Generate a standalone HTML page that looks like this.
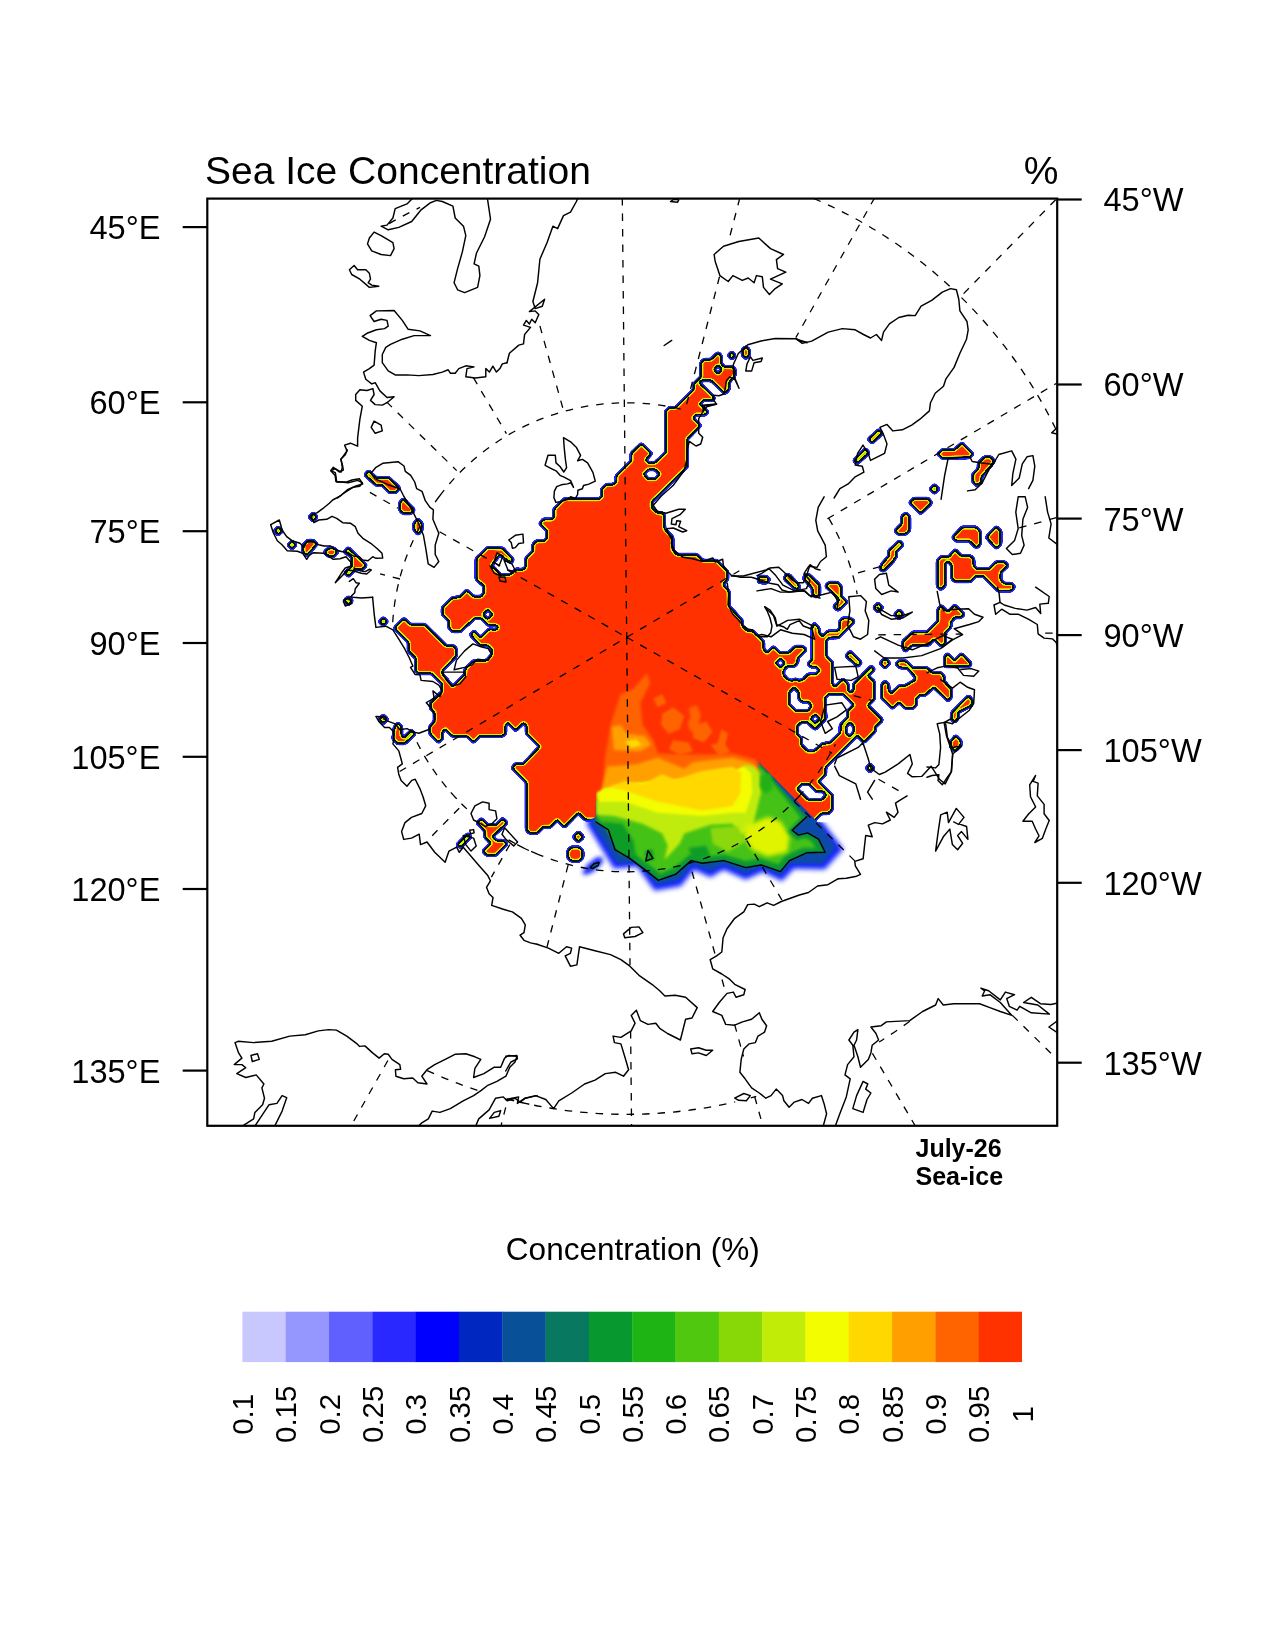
<!DOCTYPE html><html><head><meta charset="utf-8"><title>Sea Ice Concentration</title>
<style>html,body{margin:0;padding:0;background:#fff}body{width:1275px;height:1650px;overflow:hidden}svg{display:block;will-change:transform}text{font-family:"Liberation Sans",sans-serif;fill:#000}</style></head><body>
<svg width="1275" height="1650" viewBox="0 0 1275 1650">
<rect width="1275" height="1650" fill="#fff"/>
<defs><clipPath id="fr"><rect x="207.3" y="198.6" width="849.9" height="927.2"/></clipPath></defs>
<g clip-path="url(#fr)">
<defs>
<filter id="edge" x="200" y="190" width="870" height="950" filterUnits="userSpaceOnUse" color-interpolation-filters="sRGB">
<feGaussianBlur in="SourceAlpha" stdDeviation="1.0" result="b"/>
<feComponentTransfer in="b" result="am"><feFuncA type="table" tableValues="0 0 1 1 1 1 1 1 1 1 1 1 1 1 1 1 1 1 1 1 1 1 1 1 1 1 1 1 1 1 1 1 1 1 1 1 1 1 1 1 1 1 1 1 1 1 1 1 1 1 1 1 1 1 1 1 1 1 1 1 1 1 1 1 1"/></feComponentTransfer>
<feColorMatrix in="b" type="matrix" values="0 0 0 1 0  0 0 0 1 0  0 0 0 1 0  0 0 0 0 1" result="g"/>
<feComponentTransfer in="g" result="col"><feFuncR type="table" tableValues="0.251 0.251 0.141 0.141 0.141 0.141 0.141 0.141 0.141 0.141 0.141 0.141 0.141 0.141 0.141 0.000 0.000 0.000 0.000 0.000 0.000 0.000 0.000 0.000 0.000 0.000 0.000 0.000 0.000 0.000 0.000 0.000 0.000 0.000 0.000 0.000 0.000 0.000 0.000 0.000 0.000 0.000 0.000 0.000 0.000 0.000 0.000 0.000 0.000 0.000 0.816 0.816 0.816 0.816 0.816 0.816 0.816 0.816 0.816 0.816 0.816 1.000 1.000 1.000 1.000"/><feFuncG type="table" tableValues="0.251 0.251 0.141 0.141 0.141 0.141 0.141 0.141 0.141 0.141 0.141 0.141 0.141 0.141 0.141 0.094 0.094 0.094 0.094 0.094 0.094 0.094 0.094 0.094 0.094 0.094 0.094 0.094 0.094 0.094 0.094 0.094 0.094 0.094 0.094 0.094 0.094 0.094 0.094 0.094 0.094 0.094 0.094 0.094 0.094 0.094 0.094 0.094 0.094 0.094 0.957 0.957 0.957 0.957 0.957 0.957 0.957 0.957 0.957 0.957 0.957 0.690 0.690 0.196 0.196"/><feFuncB type="table" tableValues="1.000 1.000 0.973 0.973 0.973 0.973 0.973 0.973 0.973 0.973 0.973 0.973 0.973 0.973 0.973 0.031 0.031 0.031 0.031 0.031 0.031 0.031 0.031 0.031 0.031 0.031 0.031 0.031 0.031 0.031 0.031 0.031 0.031 0.031 0.031 0.031 0.031 0.031 0.031 0.031 0.031 0.031 0.031 0.031 0.031 0.031 0.031 0.031 0.031 0.031 0.000 0.000 0.000 0.000 0.000 0.000 0.000 0.000 0.000 0.000 0.000 0.000 0.000 0.000 0.000"/></feComponentTransfer>
<feComposite in="col" in2="am" operator="in"/>
</filter>
<mask id="hm" maskUnits="userSpaceOnUse" x="0" y="0" width="1275" height="1650"><rect width="1275" height="1650" fill="#fff"/>
<path fill="#000" d="M824.6 697.9 L828.4 694.1 L843.4 694.1 L854.2 704.9 L848.1 711.1 L848.1 717.6 L840.6 725.2 L840.6 732.7 L830.2 743.1 L822.7 744 L814.2 751.5 L807.6 751.5 L801.1 744.9 L801.1 738.4 L796.8 734.1 L796.8 726.1 L801.1 721.9 L807.6 721.9 L815.2 728.9 L825.5 718.6Z"/>
<path fill="#000" d="M815.2 713.9 L820.1 718.8 L815.2 723.7 L810.3 718.8Z"/>
<path fill="#000" d="M794 687.1 L799.2 692.2 L799.2 698.8 L802 701.6 L808.6 701.6 L811.9 705.4 L808.6 711.1 L795.4 711.1 L788.8 704.5 L788.8 692.2Z"/>
<path fill="#000" d="M850 721.9 L853.8 726.1 L853.8 732.7 L850 736.5 L846.2 734.6 L845.3 727.1Z"/>
<path fill="#000" d="M796.7 788.7 L801.3 784 L809.3 784 L816.7 791.3 L823.3 791.3 L826.7 795.3 L822 800 L808 800Z"/>
<path fill="#000" d="M780.3 658 L785.3 662.9 L780.3 668 L775.3 662.9Z"/>
<path fill="#000" d="M718 365.1 L722.3 369.5 L718 373.9 L713.6 369.5Z"/>
<path fill="#000" d="M643.3 474 L648 469.3 L655.3 469.3 L660 474 L655.3 479.3 L648 479.3Z"/>
<path fill="#000" d="M487.7 609.3 L492.8 614.4 L487.7 619.5 L482.7 614.4Z"/>
</mask></defs>
<g filter="url(#edge)"><g mask="url(#hm)" fill="#ff3200">
<path d="M517.6 569.8 L523.3 569.8 L526.1 567.1 L526.1 558.5 L533.3 551.2 L533.3 544.4 L536.5 541.2 L544.1 541.2 L547.1 538.2 L547.1 530.6 L540 523.5 L543.5 519.6 L551.8 519.6 L554.4 517.1 L554.4 509.1 L564.1 499.2 L599.4 499.2 L602.1 496.5 L602.1 489.1 L606.5 484.7 L613.5 484.7 L616.5 481.8 L616.5 475.9 L631.5 460.8 L631.5 453.5 L641.2 443.9 L651.3 453.6 L645.3 460 L648.7 463.3 L654.7 463.3 L666 452.7 L666 411.3 L669.3 408 L675.3 408 L693.3 390 L694.1 388.9 L694.1 383.9 L701.3 376.7 L701.3 362.6 L704.2 359.8 L711.1 359.8 L718 352.9 L720.8 355.7 L720.8 363.5 L724.5 367.3 L732.7 367.3 L734.9 369.5 L734.9 375.1 L728.6 382.7 L728.6 389.6 L724.9 393.3 L711.4 380.2 L701.6 380.2 L699.1 383 L713.2 396.8 L713.9 398.7 L712.6 399.9 L703.5 399.9 L699.4 404.3 L707.6 412.1 L707.6 412.1 L705.3 414.4 L696 414.4 L692.7 418 L700.3 425.6 L686.9 438.9 L686.9 466.7 L651.7 501.6 L651.7 507.7 L657.1 513.1 L663.7 513.7 L664.4 529.3 L672.4 537.3 L672.4 550 L676.7 554.7 L696.7 554.7 L702.7 560.7 L716.7 560.7 L727.3 572 L727.3 579.3 L722.7 584.7 L728.7 591.3 L728.7 606 L742 620.7 L742 626 L747.3 631.3 L752.7 631.3 L763.3 642 L763.3 649.3 L767.1 653.3 L773.3 647.1 L780 653.3 L788.7 653.3 L795.3 646.7 L802.7 646.7 L806 650 L805.4 649.9 L797.4 657.9 L797.4 662.6 L794.1 665.9 L787.1 665.9 L783.3 670.1 L783.3 675.3 L788 680 L792.2 681.1 L795.5 679.2 L798.8 681.1 L803.1 680 L808.2 674.5 L816.2 674.5 L820 670.6 L816.2 666.6 L811.1 666.6 L808.2 664 L812.5 659.8 L812.5 627.3 L814.1 623.5 L818.6 628.2 L818.6 632.5 L822.4 636.7 L828 631.5 L837.4 631.5 L840.2 628.7 L840.2 621.2 L842.6 618.4 L850.1 618.4 L853.9 621.6 L838.4 637.2 L828.5 637.6 L826.1 640.5 L826.1 656.5 L832.2 662.6 L832.2 684.7 L835.1 687.1 L843.1 679.5 L847.8 684.2 L847.8 690.4 L850.6 693.2 L853.9 689.9 L853.9 684.2 L871.3 666.4 L874.1 669.2 L867.5 675.8 L874.1 681.9 L874.1 698.8 L867.5 705.4 L882.1 720 L883.3 718.7 L874.7 727.3 L874.7 731.3 L864 742 L857.3 735.3 L825.3 767.3 L825.3 774 L818 781.3 L832 795.3 L832 809.3 L828 813.3 L821.3 813.3 L815.3 819.3 L805 832 L780 840 L700 850 L640 855 L612 840 L598 824 L594.1 819.6 L585.5 819.6 L578.4 812.5 L564.3 826.7 L557.3 819.6 L550.2 826.7 L543.1 826.7 L536.9 832.9 L529.8 832.9 L526.7 829.8 L526.7 782 L512.5 767.8 L515.7 763.9 L523.5 763.9 L540 746.7 L526.7 733.3 L526.7 725.5 L523.5 722.4 L515.7 730.2 L507.8 722.4 L504.7 725.5 L505.3 725.3 L505.3 733.3 L502 736 L479.3 736 L473.3 742 L467.3 736 L452.7 736 L445.3 728.7 L442 732 L442 738.7 L438.7 742 L430 733.3 L430 726.7 L434.7 721.3 L434.7 712 L430.7 708 L430.7 703.3 L442 692 L442 683.3 L432 673.3 L418.7 673.3 L416 670.7 L416 658 L408.7 650.7 L408.7 642 L394.7 628 L404 618.7 L410 624.7 L424.7 624.7 L446 646 L453.3 646 L456 648.7 L456 656 L442 670.7 L442 674 L452.7 686.7 L465.3 674 L465.3 669.3 L473.3 661.3 L486.7 660.7 L492 654.7 L492 649.3 L488 645.3 L480.7 645.3 L470.7 634.7 L474 631.3 L480.7 638 L489.3 629.3 L496 630 L498.7 627.3 L495.3 624.7 L488 624.7 L481.3 618 L474.7 618 L460 631.3 L452.7 631.3 L449.3 628 L449.3 621.3 L442.7 614 L442.7 608 L452.7 598 L460 597.3 L466.7 590.4 L473.3 596.8 L481.3 596.8 L484.3 593.3 L484.3 586.1 L476.6 579.2 L476.6 558.5 L487.6 547.9 L502.6 548.4 L512.9 559.5 L511 562.6 L499.5 554.5 L491.3 565.4 L500.7 575.1 L510.1 575.1 L517.2 568.7Z"/>
<path d="M903.1 641.8 L912.8 632.6 L927.1 632.6 L938.3 620.9 L938.3 609.2 L941.4 606.1 L948 612.2 L954.6 605.6 L963.8 614.3 L960.7 617.3 L954.6 617.3 L950.5 621.9 L950.5 627 L944.9 632.6 L944.9 642.8 L941.4 645.9 L934.2 638.7 L928.1 644.9 L911.8 644.9 L905.7 651 L903.1 647.9Z"/>
<path d="M944.9 666.3 L944.9 657.1 L947.5 654 L954.6 661.2 L961.3 654 L970.9 663.7 L968.9 666.3Z"/>
<path d="M896.5 663.7 L899.1 661.2 L905.7 661.2 L912.8 668.3 L927.1 668.3 L932.2 672.9 L940.4 672.9 L943.9 676.5 L943.9 681.6 L951.1 689.7 L951.1 696.9 L948 700.4 L933.7 686.7 L925.1 694.8 L920 694.8 L915.9 698.4 L915.9 705 L912.8 708.1 L905.7 708.1 L899.1 702 L892.4 708.1 L882.2 697.9 L882.2 684.6 L885.3 681.6 L888.4 685.1 L888.4 690.7 L891.4 693.8 L899.1 686.2 L904.7 686.2 L914.9 680.5 L916.1 677.5 L907.7 668.1 L899.6 667.3Z"/>
<path d="M952.1 712.7 L968.4 696.3 L972 699.9 L971.4 705.5 L959.7 711.1 L957.7 713.2 L957.7 718.3 L954.6 721.8 L951.6 718.8Z"/>
<path d="M878.2 603.6 L882.2 607.6 L878.2 611.7 L874.1 607.6Z"/>
<path d="M899.1 610.2 L903.1 614.3 L899.1 618.4 L895 614.3Z"/>
<path d="M885.1 659.3 L889.2 663.4 L885.1 667.5 L881 663.4Z"/>
<path d="M850.1 651.8 L860.9 662.6 L858.1 665.9 L846.4 656Z"/>
<path d="M884.9 658.8 L889.2 663.1 L884.9 667.3 L880.7 663.1Z"/>
<path d="M868.7 439.3 L878.7 430 L882 433.3 L872 442.7Z"/>
<path d="M854 460.7 L865.3 449.3 L868.7 452.7 L857.3 463.3Z"/>
<path d="M938 454 L942.7 450 L954.7 450 L962 443.3 L972.7 454 L969.3 457.3 L942.7 458Z"/>
<path d="M978.7 463.3 L984.7 457.3 L990.7 457.3 L994 461.3 L989.3 467.3 L981.3 476.7 L981.3 482 L976.7 485.3 L973.3 482 L973.3 474 L978.7 468.7Z"/>
<path d="M934.4 484.9 L938.4 488.9 L934.4 492.9 L930.4 488.9Z"/>
<path d="M910 502.7 L914 498.7 L928 498.7 L931.3 502.7 L920.7 513.3Z"/>
<path d="M906 513.3 L909.3 516.7 L909.3 530 L905.3 534 L898.7 534 L895.3 530.7 L902 524 L902 516.7Z"/>
<path d="M899.3 541.3 L902.7 544.7 L896 551.3 L896 556.7 L885.3 568.7 L881.3 565.3 L889.3 556 L889.3 550.7Z"/>
<path d="M953 537.3 L962.2 527.6 L976 527.6 L980 531.7 L980 544 L976.5 547.5 L969.3 540.4 L955.6 540.4Z"/>
<path d="M986.7 537.3 L996.3 527.1 L1000.4 531.2 L1000.4 544 L996.3 548Z"/>
<path d="M937.7 560.8 L940.8 557.2 L948.9 557.2 L955.1 550.1 L961.2 556.2 L970.4 556.2 L973.4 559.3 L973.4 565.9 L976.5 568.9 L989.7 568.9 L996.3 562.3 L1004.5 562.3 L1007.6 565.4 L1000.4 572.5 L1000.4 580.2 L1004 583.7 L1011.1 583.7 L1014.2 586.8 L1011.1 590.4 L997.9 590.4 L983.6 576.1 L975.4 576.1 L970.4 581.2 L955.1 581.2 L952 578.1 L952 564.9 L947.9 560.8 L944.9 563.8 L944.9 585.3 L940.8 589.3 L937.7 586.3Z"/>
<path d="M365.3 474.7 L368.7 471.3 L376 478 L388.7 478 L399.3 488 L396 492 L389.3 492 L382 484.7 L376 484.7Z"/>
<path d="M400 502.7 L403.3 499.3 L414 510 L410.7 513.3 L403.3 513.3 L400 510Z"/>
<path d="M418 519.3 L421.6 523.3 L421.6 530 L418 534 L414.4 530 L414.4 523.3Z"/>
<path d="M313.1 513.3 L316.8 517.1 L313.1 520.8 L309.3 517.1Z"/>
<path d="M278.3 527.3 L281.9 530.9 L278.3 534.5 L274.7 530.9Z"/>
<path d="M292 541.3 L295.6 544.9 L292 548.5 L288.4 544.9Z"/>
<path d="M303.3 545.3 L308 540.7 L313.3 540.7 L316.7 544 L306.7 555.3 L303.3 552Z"/>
<path d="M324.7 552 L328.7 548.4 L334 548.4 L337.3 552 L334 556 L328.7 556Z"/>
<path d="M344.7 552 L348 548 L366 565.3 L362 569.3 L356 568.7 L354.7 569.3 L348.7 576 L345.3 573.3 L352 566.7 L352 556.7Z"/>
<path d="M348.3 596.9 L352 600.7 L348.3 604.4 L344.5 600.7Z"/>
<path d="M383.3 617.9 L387.1 621.6 L383.3 625.3 L379.6 621.6Z"/>
<path d="M383.3 715.6 L387.1 719.3 L383.3 723.1 L379.6 719.3Z"/>
<path d="M383.3 715.9 L387.1 719.6 L383.3 723.3 L379.6 719.6Z"/>
<path d="M394.7 727.3 L398 723.3 L401.3 726.7 L401.3 735.3 L404 738 L411.3 730.7 L414.7 734 L404.7 743.3 L398 743.3 L393.3 738.7Z"/>
<path d="M457.3 844.7 L468 834 L470.7 836.7 L460.7 847.3Z"/>
<path d="M477.3 822.7 L481.3 819.1 L488 825.3 L496 825.3 L502.7 818.7 L506.7 822.7 L492 836.7 L496 840.7 L503.3 840.7 L506.7 844 L496 854.7 L486.7 854.7 L483.3 851.3 L491.3 843.3 L485.3 837.3 L485.3 831.3Z"/>
<path d="M578.4 832.2 L583.1 836.9 L578.4 841.6 L573.7 836.9Z"/>
<path d="M571.4 847.5 L579.2 847.5 L582.4 850.7 L582.4 857.6 L579.2 860.7 L571.4 860.7 L568.2 857.6 L568.2 850.7Z"/>
<path d="M731.8 352.2 L734.9 355.4 L731.8 358.5 L728.6 355.4Z"/>
<path d="M745.9 346.9 L749 350 L749 355.1 L745.9 358.2 L742.7 355.1 L742.7 350Z"/>
<path d="M758.7 576.7 L766 576.7 L769.3 579.3 L766 582.7 L758.7 582Z"/>
<path d="M786 575.3 L789.3 575.3 L798.7 585.3 L798.7 588.7 L795.3 588.7 L784.7 578.7Z"/>
<path d="M805.3 574.7 L808.7 574.7 L819.3 585.3 L819.3 594.7 L816 596.7 L812.7 594 L812.7 588 L804 578.7Z"/>
<path d="M826 586 L829.3 582.7 L837.3 582.7 L840.7 586 L840.7 596 L846.7 602 L838 610 L834 606.7 L838.7 602 L838.7 598 L826.7 586.7Z"/>
<path d="M880 568 L891 557 L894 560 L883 571Z"/>
<path d="M951 746.4 L951 741.6 L955.8 736 L960.5 740.7 L960.5 745.4 L954.8 751Z"/>
<path d="M870.1 764.6 L873.5 768 L870.1 771.4 L866.7 768Z"/>
</g></g>
<defs><clipPath id="gc"><path d="M595.9 670 L760.6 670 L760.6 764 L817.7 822.2 L850 822.2 L850 899.9 L583.2 899.9 L583.2 821.5 L595.9 817.6Z"/></clipPath>
<filter id="gb0_8" x="-20%" y="-20%" width="140%" height="140%"><feGaussianBlur stdDeviation="0.8"/></filter>
<filter id="gb1_0" x="-20%" y="-20%" width="140%" height="140%"><feGaussianBlur stdDeviation="1.0"/></filter>
<filter id="gb1_1" x="-20%" y="-20%" width="140%" height="140%"><feGaussianBlur stdDeviation="1.1"/></filter>
<filter id="gb1_2" x="-20%" y="-20%" width="140%" height="140%"><feGaussianBlur stdDeviation="1.2"/></filter>
<filter id="gb1_4" x="-20%" y="-20%" width="140%" height="140%"><feGaussianBlur stdDeviation="1.4"/></filter>
<filter id="gb1_5" x="-20%" y="-20%" width="140%" height="140%"><feGaussianBlur stdDeviation="1.5"/></filter>
<filter id="gb1_6" x="-20%" y="-20%" width="140%" height="140%"><feGaussianBlur stdDeviation="1.6"/></filter>
<filter id="gb1_8" x="-20%" y="-20%" width="140%" height="140%"><feGaussianBlur stdDeviation="1.8"/></filter>
<filter id="gb2_0" x="-20%" y="-20%" width="140%" height="140%"><feGaussianBlur stdDeviation="2.0"/></filter>
<filter id="gb2_6" x="-20%" y="-20%" width="140%" height="140%"><feGaussianBlur stdDeviation="2.6"/></filter>
</defs><g clip-path="url(#gc)">
<path fill="#1828ff" filter="url(#gb2_6)" d="M595.9 801.8 L586.5 823.7 L613.9 868.7 L637 866.5 L654.5 890.7 L680.9 886.3 L694.1 869.8 L710.5 877.5 L723.7 869.8 L745.7 879.7 L762.8 872 L781.9 881.2 L794 868.7 L824.7 869.4 L843.4 849 L819.2 817.6 L760.6 764Z"/>
<path fill="#0a48a8" filter="url(#gb1_6)" d="M595.9 803.9 L592 823.7 L617.2 863.2 L639.8 862.1 L656.7 884.8 L678.7 880.4 L692.5 864.6 L710.5 870.9 L723.7 864.6 L745.7 873.8 L762.1 866.8 L780.4 875.3 L790.7 863.7 L822.1 864.1 L836.1 847.4 L817 820.2 L760.6 764Z"/>
<path fill="#0c8848" filter="url(#gb1_2)" d="M595.9 803.9 L595.9 822 L608.4 829.9 L615 849.6 L629.7 858.4 L647.3 871.6 L658.3 880.4 L675.8 874.2 L691.2 860.6 L702.2 863.2 L723.7 860.6 L745.7 867.6 L761 865 L780.4 871.6 L789.6 860.6 L807.2 852.7 L825.2 852.3 L818.6 839.1 L807.6 832.9 L798.4 835.1 L792.2 830.3 L806.7 816.7 L760.6 764Z"/>
<path fill="#089830" filter="url(#gb1_2)" d="M595.9 810.5 L597.2 821.5 L610 828.5 L616.6 848.3 L631 857.1 L648.2 870.3 L658.7 878.6 L675.4 872.9 L690.8 859.3 L702.4 861.9 L723.7 859.3 L745.7 866.3 L760.8 863.7 L779.7 870 L788.7 859.5 L806.3 851.6 L822.5 851.4 L817.3 840 L806.9 834 L798.2 836.2 L790.5 830.5 L805 817.1 L760.6 766.6Z"/>
<path fill="#44c212" filter="url(#gb1_5)" d="M595.9 801.8 L598.5 819.3 L615 832.9 L621.6 847.4 L634.8 854 L651.7 866.5 L660.5 873.8 L673.6 868.1 L689.7 854.5 L703.1 857.1 L723.7 854.5 L745.7 861 L760.2 858.4 L778.2 864.3 L785.6 855.6 L803.2 847.4 L815.5 848.3 L811.5 841.3 L805 838 L797.3 840.2 L786.3 832.5 L800.6 817.6 L760.6 767.7Z"/>
<path fill="#ff6400" filter="url(#gb1_6)" d="M602.9 793 L605.1 757.8 L610.6 724.9 L620.5 694.2 L633.7 688.7 L646.9 673.3 L650.1 683.2 L640.3 702.9 L642.5 724.9 L653.4 740.3 L657.8 753.4 L684.2 754.5 L710.5 754.5 L732.5 753.4 L754.5 758.9 L759.3 764 L756.6 773.2 L723.7 793Z"/>
<path fill="#ff6400" filter="url(#gb1_4)" d="M688.6 708.4 L696.3 705.1 L700.7 713.9 L698.5 726 L691.9 732.6 L687.5 724.9 L690.8 716.1Z"/>
<path fill="#ff6400" filter="url(#gb1_2)" d="M721.5 729.3 L728.1 733.7 L723.7 749.1 L717.1 744.7Z"/>
<path fill="#ff6400" filter="url(#gb1_1)" d="M662.2 713.9 L673.2 707.3 L684.2 716.1 L679.8 729.3 L668.8 733.7 L661.1 724.9Z"/>
<path fill="#ff6400" filter="url(#gb1_1)" d="M693 726 L706.1 721.6 L712.7 731.5 L703.9 742.5 L693 738.1Z"/>
<path fill="#ff6400" filter="url(#gb1_1)" d="M673.2 740.3 L688.6 742.5 L693 751.2 L679.8 755.2 L668.8 749.1Z"/>
<path fill="#ff6400" filter="url(#gb1_1)" d="M710.5 744.7 L723.7 742.5 L730.3 751.7 L719.3 756.1Z"/>
<path fill="#ff6400" filter="url(#gb1_1)" d="M653.4 698.5 L662.2 694.2 L666.6 702.9 L657.8 707.3Z"/>
<path fill="#ffa000" filter="url(#gb1_4)" d="M600.7 793 L607.3 766.6 L635.9 764.4 L657.8 757.8 L684.2 768.8 L693 762.2 L710.5 760 L732.5 757.8 L752.3 763.3 L758.8 771 L758.8 793Z"/>
<path fill="#ffa000" filter="url(#gb1_4)" d="M611.7 727.1 L620.5 724.9 L627.1 733.7 L644.7 735.9 L651.2 744.7 L640.3 751.2 L613.9 750.1Z"/>
<path fill="#ffd800" filter="url(#gb1_0)" d="M624.9 741.4 L635.9 739.2 L642.5 744.7 L631.5 748Z"/>
<path fill="#c0ec08" filter="url(#gb1_4)" d="M596.4 793 L596.4 814.9 L613.9 816 L642.5 823.7 L662.2 833.6 L667.7 845.7 L664.4 859.9 L679.8 843.5 L684.2 833.6 L710.5 824.8 L732.5 823.7 L739.1 836.9 L752.3 828.1 L756.6 810.5 L761 793 L759.3 773.2 L754.9 767.1 L745.7 764.9 L723.7 779.8 L635.9 784.2 L605.1 789.7Z"/>
<path fill="#f4fc00" filter="url(#gb1_2)" d="M597.4 793 L599.6 801.8 L624.9 801.8 L657.8 812.7 L701.8 816 L732.5 812.7 L745.7 812.7 L752.3 793 L751.2 773.2 L743.9 766.6 L723.7 775.4 L635.9 783.1 L605.1 788.1Z"/>
<path fill="#ffd800" filter="url(#gb1_2)" d="M609.5 786.4 L624.9 790.8 L657.8 801.8 L679.8 806.1 L701.8 810.5 L732.5 806.1 L740.2 793 L741.3 773.2 L732.5 766.6 L701.8 771 L675.4 779.8 L662.2 774.3 L642.5 784.2 L624.9 780.9Z"/>
<path fill="#e0f404" filter="url(#gb2_0)" d="M745.7 825.9 L767.6 817.1 L780.8 821.5 L789.6 836.9 L787.4 852.3 L767.6 856.6 L752.3 850.1 L743.5 836.9Z"/>
<path fill="#8cd808" filter="url(#gb1_5)" d="M710.5 828.1 L736.9 825.9 L745.7 841.3 L728.1 852.3 L712.7 843.5Z"/>
<path fill="#109c28" filter="url(#gb1_8)" d="M602.9 821.5 L622.7 823.7 L633.7 841.3 L635.9 856.6 L620.5 854.5 L607.3 832.5Z"/>
<path fill="#109c28" filter="url(#gb1_2)" d="M644.7 851.2 L652.3 849 L654.5 859.9 L645.8 861Z"/>
<path fill="#109c28" filter="url(#gb1_5)" d="M688.6 847.9 L706.1 845.7 L710.5 856.6 L693 859.9Z"/>
<path fill="#20b018" filter="url(#gb1_5)" d="M761 775.4 L770.9 773.2 L773.1 788.6 L765.4 794.1 L759.9 786.4Z"/>
</g>
<path fill="#1828ff" filter="url(#gb2_0)" d="M581.9 873.3 L587.1 864.8 L596.9 856.9 L603.2 857.6 L602 863.8 L593.3 871.7 L586 875.1Z"/>
<path fill="#0a6a70" filter="url(#gb0_8)" d="M590.2 867.5 L594.1 863.8 L599.1 862.4 L598.2 865.4 L592.5 868.5Z"/>
<path fill="none" stroke="#000" stroke-width="1.3" stroke-dasharray="7.5 8" d="M389.2 223.6A477.0 477.0 0 0 1 420.0 207.4M473.4 377.7L506.4 433.6M386.6 401.9L456.7 470.6M539.9 325.9L563.6 410.9M439.6 496.0A234.5 234.5 0 0 1 686.4 410.5M622.3 198.0L626.7 637.5M739.8 198.0L728.2 242.7M719.5 276.7L684.9 411.0M813.8 198.5A477.0 477.0 0 0 1 950.5 287.0M961.5 297.6A477.0 477.0 0 0 1 1056.1 429.7M874.7 197.7L795.8 337.6M1055.7 199.7L959.5 297.8M439.6 496.0A234.5 234.5 0 0 0 432.0 506.5M420.1 526.3A234.5 234.5 0 0 0 392.7 622.6M417.0 742.2A234.5 234.5 0 0 0 461.4 803.6M400.0 579.0L380.1 573.8M369.9 492.4L397.8 508.2M439.6 531.8L626.7 637.3M399.6 771.5L626.8 637.3M827.4 518.8L1056.6 383.3M828.8 518.4A234.5 234.5 0 0 1 857.2 594.2M858.0 572.8L884.7 565.4M1019.2 527.9L1056.7 517.5M878.2 634.8L961.7 634.0M1045.2 633.1L1057.0 633.0M853.8 695.7L872.4 700.5M626.7 637.3L831.9 753.1M878.5 779.3L903.3 793.3M450.8 792.4A234.5 234.5 0 0 0 468.8 810.7M459.2 808.2L427.8 840.2M509.8 844.6L491.4 877.1M517.2 844.7A234.5 234.5 0 0 0 540.8 855.5M387.9 1060.5L350.7 1126.5M427.2 1070.6A477.0 477.0 0 0 0 481.5 1091.7M506.9 1099.0A477.0 477.0 0 0 0 538.1 1106.0M505.7 1107.4L500.7 1127.0M628.4 803.2L630.0 964.9M630.6 1030.9L631.6 1127.2M508.6 839.9A234.5 234.5 0 0 0 798.4 797.0M568.1 865.2L547.0 947.0M692.0 871.6L715.3 955.1M722.0 979.5L725.8 992.9M734.6 1024.4L743.5 1056.5M754.7 1096.8L763.2 1127.1M746.7 840.5L781.9 900.0M519.0 1102.0A477.0 477.0 0 0 0 735.2 1101.8M750.8 1097.9A477.0 477.0 0 0 0 756.2 1096.4M794.1 801.4L855.3 861.4M872.4 1053.3L915.2 1125.8M1012.4 1015.4L1059.7 1061.8M909.8 1021.2A477.0 477.0 0 0 1 879.1 1042.0M626.7 637.3L628.4 803.2M626.7 637.3L739.3 570.8M798.4 797.0A234.5 234.5 0 0 0 835.4 744.2M953.3 821.6L959.1 824.8"/>
<g fill="none" stroke="#000" stroke-width="1.45" stroke-linejoin="round" stroke-linecap="round">
<path d="M415.2 195.6 L407 203.9 L395.2 208.6 L392.9 218 L387 225.1 L381.1 226.2 L388.2 229.8 L398.8 227.4 L411.7 221.5 L421.1 209.8 L430.5 202.7 L436.4 200.4 L442.3 201.5 L452.9 206.2 L455.2 218 L463.5 226.2 L465.8 235.6 L462.3 252.1 L457.6 268.6 L454.1 282.7 L457.6 289.8 L464.6 292.6 L477.6 287.4 L479.9 275.6 L478.8 266.2 L474.1 263.9 L476.4 253.3 L484.6 236.8 L490.5 219.2 L487 195.6"/>
<path d="M374.1 232.1 L381.1 235.6 L392.9 242.7 L394.1 248.6 L390.5 255.6 L381.1 254.5 L371.7 250.9 L367.5 243.9 L369.4 238Z"/>
<path d="M354.1 265.5 L357.6 269.8 L365.8 269.8 L369.4 273.3 L370.5 279.2 L368.2 282.7 L371.7 285.1 L378.8 286.2 L369.4 287.4 L359.9 279.2 L351.7 274.5 L349.4 269.8Z"/>
<path d="M374.1 421.1 L381.1 425.1 L382.3 430.9 L375.2 433.3 L371.2 427.4Z"/>
<path d="M507 362.7 L502.3 363.9 L499.9 368.6 L496.4 372.1 L492.9 366.2 L489.4 372.1 L485.8 368.6 L485.8 376.8 L475.2 378 L465.8 376.8 L467 368.6 L474.1 366.9 L465.8 365.8 L458.8 368.6 L455.2 373.3 L450.5 373.3 L448.2 369.8 L442.3 372.1 L432.9 374.5 L418.8 375.6 L407 374.9 L395.2 374.9 L388.2 370.9 L382.3 362.7 L382.3 354.5 L385.8 347.4 L390.5 344.4 L402.3 339.2 L414.1 335.6 L430.5 335.6 L419.9 330.9 L408.2 329.3 L402.3 320.4 L394.1 310.5 L376.4 310.9 L370.1 315.6 L374.1 321.5 L381.1 319.2 L387 320.4 L388.2 326.2 L384.6 328.6 L376.4 329.8 L367 333.3 L362.3 336.4 L369.4 340.4 L376.4 342.7 L375.2 350.9 L374.1 365.1 L369.4 368.6 L363.5 372.1 L365.8 379.2 L371.7 383.9 L375.2 382.7 L379.9 390.9 L387 397.5 L394.1 396.8 L387 402.7 L382.3 405.1 L375.2 404.6 L370.5 400.4 L374.1 394.5 L372.9 388.6 L367 390.5 L359.9 389.8 L355.7 394.5 L355.7 400.4 L362.3 406.2 L359.9 419.2 L357.6 438 L357.6 446.2 L350.5 443.2 L344.6 445.1 L347 450.9 L341.1 459.2 L342.3 467.4 L341.1 472.1 L335.2 468.6 L331 470.9 L335.2 475.6 L335.9 481.5 L348.2 482.7 L357.6 480.4 L362.3 482.7 L359.9 486.2 L352.9 487.4 L343.5 493.3 L337.6 498"/>
<path d="M507 362.7 L509.4 353.3 L518.8 345.1 L523.5 343.9 L524.6 334.5 L530.5 327.4 L523.5 325.1 L526.3 320.4 L529.4 323.9 L531.7 319.2 L535.2 322.7 L538.8 314.5 L535.2 310.9 L529.4 311.6 L544.6 299.2 L542.3 306.2 L535.2 308.6 L532.9 301.5 L537.6 282.7 L539.9 259.2 L547 242.7 L552.9 226.2 L557.6 228.6 L563.5 215.6 L570.5 212.1 L576.4 201.5 L578.8 196.1"/>
<path d="M670.5 201.5 L674.1 199.2 L678.8 199.9 L677.6 202.2Z"/>
<path d="M715.2 261.5 L714.1 254.5 L723.5 246.2 L738.8 241.5 L758.8 238 L770.5 248.6 L783.5 254.5 L776.4 259.6 L777.6 268.6 L785.8 272.1 L770.5 279.2 L782.3 283.9 L775.2 288.6 L769.4 294.5 L763.5 287.4 L762.3 276.8 L756.4 275.6 L754.1 282.7 L748.2 278 L742.3 280.4 L732.9 275.6 L728.2 281.5 L719.9 275.6Z"/>
<path d="M664.2 345.5 L671.7 340.4"/>
<path d="M750.5 356.8 L752.9 360.4 L762.3 358 L761.1 361.5 L754.1 362.7 L751.7 370.9 L745.8 370.9 L747 363.9Z"/>
<path d="M807 342.5 L799.9 340.9 L796.4 338.7 L775.2 338.5 L761 341 L747.8 344.7 L738.3 353.5 L733.3 364.5 L733.6 375.1 L739 388.3 L734.9 379.5 L729.6 377 L726.4 380.8 L724.9 390.2 L723.9 394 L718.9 395.8 L713.2 395.2 L714.2 400.5 L716.4 404.3 L705.1 405.6 L703.2 410.3"/>
<path d="M703.3 410.4 L702.7 405.3 L716.7 404 L706.7 406.7 L702.7 412 L698.7 418.7 L698.7 425.3 L698.7 433.3 L702.7 437.3 L700.7 444 L696 446 L689.3 441.3 L687.3 449.3 L686.7 460 L684 470.7 L673.3 485.3 L661.3 496 L653.3 505.3 L657.3 511.3 L666 513.3 L678.7 509.3 L685.3 509.3 L680 514.7 L672 518.7 L671.3 524 L676 524.7 L676.7 520.7 L680.7 521.3 L678.7 526.7 L686.7 530.7 L682.7 532 L673.3 528 L666.7 528.7 L668.7 534.7 L672 540 L672.7 550"/>
<path d="M807 342.5 L796.4 339.2 L802.3 343.4 L811.7 341.1 L828.2 332.1 L842.3 328.6 L855.2 329.8 L863.5 334.5 L870.5 338 L876.4 334.5 L881.6 340.4 L883.5 332.1 L889.4 323.9 L898.8 317.5 L908.2 315.2 L915.2 315.6 L921.1 306.2 L931.7 300.4 L942.3 292.1 L950.5 288.6 L956.4 289.8 L958.8 299.2 L959.9 310.9 L967 321.5 L968.2 329.8 L966.5 339.2 L959.9 353.3 L954.1 367.4 L945.8 379.2 L943.5 386.2 L935.2 393.3 L930.5 402.7 L929.4 410.9 L919.9 419.2 L911.7 425.1 L902.3 429.8 L892.9 430.9 L887 424.4 L879.9 427.4 L883.5 434.5 L887 443.9 L884.6 453.3 L870.5 460.4 L868.2 453.3 L863 445.1 L857.6 453.3 L855.2 465.1 L862.3 466.2 L863.9 472.1 L855.2 476.8 L848.2 483.9 L839.9 488.6 L834.1 498"/>
<path d="M941.1 499.2 L944.6 475.6 L948.2 458 L969.8 456.8 L972.2 461.5 L979.9 462.7 L992.9 464.4 L998.8 454.5 L1011.7 450.9 L1015.9 459.2 L1012.9 473.3 L1011.7 485.5 L1019.2 478 L1022.3 463.9 L1027 456.8 L1032.9 455.6 L1034.8 466.2 L1032.9 480.4 L1028.6 488.6"/>
<path d="M967.5 490.9 L975.2 489.8 L982.3 482.7 L989.4 468.6 L992.9 464.4"/>
<path d="M1058.8 426.2 L1051.7 432.8 L1058.8 434.5"/>
<path d="M372 472 L376 467.3 L382.7 463.3 L398 461.7 L404 466 L405.3 471.3 L410.7 475.3 L414.7 482 L416.7 488.7 L422 491.3 L425.3 500.7 L430 507.3 L433.4 509.8 L432.9 519.2 L438.8 533.3 L435.2 545.1 L435.2 554.5 L438.8 561.5 L434.1 567.4 L428.2 563.9 L425.8 548.6 L423.5 535.6 L419.9 526.2 L418 522 L413.3 512.7 L408 503.3 L403.3 495.3 L400 488.7 L388 484.7 L374.7 478.7 L370.7 472.7Z"/>
<path d="M343.5 493.3 L348 489.3 L356 486 L362.7 484 L359.3 478.7 L352 480 L346.7 482 L336.7 482 L336 476.7 L335.3 472.7 L330.7 470.7 L333.3 467.3 L339.3 472 L343.3 470 L342.7 466 L340.7 459.3 L345.3 454.7 L347.3 450"/>
<path d="M343.5 493.3 L341.3 495.3 L332.7 500 L329.3 503.3 L322.7 508.7 L317.3 512.7 L314 514 L311.3 516.7 L314 522.7 L318.7 520 L326.7 519.3 L332 516.3 L336.7 518.3 L342.7 522.7 L350.7 523.3 L355.3 526.7 L358 533.3 L363.3 538.7 L370.7 543.3 L377.3 548.7 L382 553.3 L382.7 558 L376 558.3 L372.7 556.7 L368 560.7 L362.7 560 L359.3 556.7 L353.3 556 L348 552.7 L340 551.3"/>
<path d="M270.7 524.7 L279.3 520 L280.7 524.7 L282 530 L286.7 536.7 L292 540.7 L300 543.3 L304 547.3 L306.7 542 L313.3 542 L318.7 544.7 L324 546 L330.7 546 L334.7 549.3 L340 551.3"/>
<path d="M270.7 524.7 L273.3 532.7 L277.3 540.7 L282 544.7 L287.3 550.7 L297.3 551.3 L302.7 553.3 L306.7 559.3 L309.3 555.3 L313.3 552.7 L324 553.3 L329.3 556.7 L333.3 559.3 L340 558.7 L346 556.7 L350.7 562 L351.3 566 L345.3 568 L341.3 573.3 L335.3 582.7 L342.7 575.3 L346.7 570 L353.3 570.7 L361.3 573.3 L366.7 574 L371.3 570 L369.3 569.3 L365.3 571.6 L360 570.7 L354 568"/>
<path d="M349.3 581.3 L353.3 578.7 L356 582.7 L359.3 583.3 L355.3 588.7 L354.7 592.7 L350.7 596.7 L353.3 597.3 L361.3 598 L372.7 597.3"/>
<path d="M345.3 598.7 L343.3 601.3 L345.3 606 L352 603.3 L349.6 599.3Z"/>
<path d="M372.6 597.3 L374.1 613.3 L375.9 627.4 L385.8 626.2 L392.9 629.8 L398.8 639.2 L404.6 648.6 L409.4 658 L412.9 666.2 L410.5 667.4 L415.2 674.5 L419.9 674.9 L421.1 680.4 L432.9 681.5 L438.8 685.1 L442.3 690.9 L439.9 696.8 L432.9 690.9 L434.1 698 L428.2 701.5 L426.3 702.7 L430.5 707.4 L434.1 713.3 L434.8 721.5 L428.2 729.8 L418.8 733.3 L414.1 732.1 L407 728.6 L399.9 729.8 L395.2 723.9 L385.8 720.4 L382.3 716.8 L375.9 716.4 L378.8 721.5 L384.6 727.4 L389.4 727.4 L392.9 730.9 L394.1 738 L392.9 743.9 L398.8 750.9 L401.1 759.2 L402.3 763.9 L397.6 767.4 L398.8 774.5 L401.1 780.4 L407 786.2 L411.7 780.4 L415.2 779.2 L419.9 788.6 L423.5 798"/>
<path d="M454.1 669.8 L456.4 660.4 L464.6 650.9 L472.9 643.9 L481.1 646.7 L488.2 648.6 L491.7 654.5 L488.2 660.4 L477.6 659.2 L471.7 665.1 L464.6 667.4Z"/>
<path d="M442.3 672.1 L463.5 672.1 L465.8 676.8 L459.9 683.9 L451.7 686.2 L445.8 679.2Z"/>
<path d="M563.5 437.6 L570.6 441.8 L576.5 447.6 L580.6 455.3 L577.6 460.8 L582.4 459.4 L587.6 462.9 L592.9 472.4 L595.3 481.2 L588.8 484.1 L583.5 485.5 L582.4 488.8 L577.9 490.2 L577.6 494.5 L575.3 498.5 L570.6 496.8 L567.3 499.6 L564.1 500.6 L560 501.8 L555.9 502.4 L553.9 497.6 L554.4 491.2 L556.7 486.7 L561.2 484.8 L567.6 483.9 L570.8 482.7 L573.5 487.4 L570.6 480.6 L564.1 477.1 L560 475.3 L556.5 471.2 L551.8 468.8 L545.1 465.3 L548 455.3 L555.3 455.3 L556 462.9 L560 466.5 L563.8 472 L566.6 467.6 L565.4 459.4 L564.2 447.6Z"/>
<path d="M508.8 540 L515.3 535.3 L522.9 534.1 L523.5 542.9 L518.8 543.5 L515.3 547.6 L512.4 548.2 L511.2 542.4Z"/>
<path d="M497 553 L503 556 L499 566 L494 562Z"/>
<path d="M504 560 L512 564 L516 572 L508 570Z"/>
<path d="M499 577 L505 577 L506 582 L500 581Z"/>
<path d="M490 566 L497 570 L501 576 L494 573Z"/>
<path d="M672.4 537.3 L671.3 543.3 L674.7 551.3 L683.3 557.3 L692.7 558.7 L702 561.3 L707.3 560 L712.7 558 L715.3 562 L722.7 559.3 L723.3 565.3 L727.3 571.3 L731.3 575.3 L740.7 577.3 L751.3 577.3 L760.7 580 L770 583.3 L778 584.7 L782 590 L788.7 592 L796.7 591.3 L804.7 590.7 L809.3 595.3 L820 598"/>
<path d="M731.3 576 L743.3 576 L766 570 L770 568 L778.7 567.3 L784.7 572.7 L791.3 579.3 L796.7 582.7 L803.3 582.7 L806.7 575.3 L810 564.7 L815.3 568.7 L820 570"/>
<path d="M727.3 583.3 L728.7 594 L728 604.7 L732.7 614 L738 619.3 L743.3 626 L748.7 629.3 L752.7 630 L755.3 634.7 L760.7 636.7 L767.3 636.7 L770.7 632.7 L772 626 L770 618 L767.3 611.3 L764.7 606.7 L770 610 L775.3 618 L776.7 624.7 L783.3 626.7 L787.3 629.3 L790 624.7 L799.3 620.7 L803.3 626 L810.7 628.7"/>
<path d="M824.1 496.8 L818.2 507.4 L815.8 520.4 L817.7 530.9 L825.2 545.1 L826.4 556.8 L820.5 561.5 L817 567.4 L808.8 566.2 L804.1 573.3 L809.9 580.4 L806.4 588.6 L794.6 590.9 L782.9 585.1 L775.8 575.6 L768.8 568.6 L761.7 573.3 L757 575.6"/>
<path d="M757 590.9 L771.1 588.6 L780.5 592.1 L789.9 592.1 L804.1 590.9 L811.1 596.8 L822.9 594.5 L832.3 592.1 L838.2 601.5 L837 608.6"/>
<path d="M765.2 607.4 L773.5 615.6 L777 626.2 L787.6 620.4 L799.4 619.2 L811.1 625.1 L814.6 639.2 L804.1 634.5 L792.3 633.3 L780.5 629.8 L771.1 636.8 L761.7 634.5 L757 635.6"/>
<path d="M848.8 596.8 L860.5 595.6 L866.4 601.5 L865.2 610.9 L868.8 620.4 L867.6 634.5 L860.5 639.2 L853.5 636.8 L847.6 625.1 L849.9 610.9Z"/>
<path d="M874.6 579.2 L879.4 574.5 L886.4 573.3 L888.8 585.1 L898.2 592.1 L891.1 590.9 L881.7 594.5 L875.8 588.6Z"/>
<path d="M877 607.4 L881.7 614.5 L891.1 619.2 L902.9 618 L912.3 612.1 L902.9 615.6 L891.1 615.6 L882.9 610.9Z"/>
<path d="M1018.2 496.8 L1015.8 512.1 L1018.2 528.6 L1014.6 540.4 L1006.4 548.6 L1012.3 554.5 L1020.5 553.3 L1024.1 545.1 L1021.7 535.6 L1022.9 519.2 L1027.6 507.4 L1025.2 496.8Z"/>
<path d="M1045.2 496.8 L1047.6 512.1 L1051.1 523.9 L1048.8 538 L1058.2 545.1"/>
<path d="M875.8 639.2 L880.5 636.8 L898.2 645.1 L912.3 649.8 L926.4 643.9 L942.9 635.6 L952.3 639.2 L940.5 648.6 L921.7 655.6 L902.9 658 L884.1 658 L874.6 650.9"/>
<path d="M834.6 667.4 L855.8 666.2 L858.2 676.8 L851.1 680.4 L837 679.2Z"/>
<path d="M834.6 763.9 L837 758 L858.2 747.4 L862.9 742.7 L867.6 756.8 L871.1 768.6 L879.4 774.5 L885.2 772.1 L898.2 763.9 L909.9 754.5 L912.3 763.9 L907.6 773.3 L912.3 776.8 L921.7 776.4 L931.1 766.2 L939.4 779.2 L945.2 783.9 L951.1 772.1 L952.8 754.5 L946.4 735.6 L944.1 722.7 L952.3 718"/>
<path d="M834.6 766.2 L839.4 775.6 L855.8 783.9 L860.5 799.2"/>
<path d="M874.6 780.4 L867.6 792.1 L872.3 799.2"/>
<path d="M825.2 705.1 L841.7 702.7 L846.4 709.8 L837 716.8 L827.6 721.5 L832.3 728.6 L825.2 733.3 L820.5 721.5Z"/>
<path d="M423.4 798 L425.7 805.8 L421.8 813.5 L411.5 817.4 L405 822.6 L401.6 831.6 L403.7 839.4 L411.5 838.1 L419.2 834.2 L420.5 844.6 L427 842 L434.7 852.3 L445.1 862.2 L449 851.1 L456.7 847.2 L459.3 852.3 L463.2 847.2 L471 856.2 L478.7 865.3 L487.8 875.6 L490.4 880.8 L486.5 887.3 L489.1 893.8 L493 897.6 L491.7 905.4 L503.3 909.3 L512.4 911.9 L521.4 918.3 L525.3 924.8 L524 932.6 L520.1 935.2 L524 940.3 L530.5 942.9 L537 944.2"/>
<path d="M471 813.5 L474.9 805.8 L482.6 801.9 L489.1 803.2 L489.1 809.6 L495.6 810.9 L496.9 818.7 L491.7 823.9 L485.2 826.5 L478.7 822.6 L473.6 820Z"/>
<path d="M504.6 827.8 L517.6 842 L513.7 845.9 L505.9 839.4 L502 834.2Z"/>
<path d="M463.2 835.5 L473.6 838.1 L476.2 845.9 L471 851.1 L465.8 844.6Z"/>
<path d="M469.7 830.3 L473.6 829.6 L474.1 832.9 L470.5 833.7Z"/>
<path d="M239.3 1128 L253.6 1118.9 L254.9 1112.4 L262.6 1104.7 L264.5 1098.2 L261.9 1087.9 L263.9 1084 L256.2 1074.9 L245.8 1077.5 L236.8 1073.6 L245.8 1067.7 L241.9 1064.6 L234.2 1064.6 L241.9 1058.1 L238.6 1052.9 L235 1042.6 L238.1 1041.3 L253.6 1042.6 L271.7 1041.3 L289.8 1036.1 L305.3 1034.8 L318.3 1030.9 L328.6 1029.6 L336.4 1030.1 L346.8 1036.1 L357.1 1043.9 L359.7 1046.4 L364.9 1045.9 L372.6 1052.9 L379.1 1058.1 L384.3 1053.7 L388.2 1054.2 L392 1059.4 L399.8 1064.6 L400.6 1069.2 L395.4 1069.7 L395.9 1076.2 L403.7 1078.8 L412.7 1078 L417.9 1082.7 L427 1084 L421.8 1076.2 L427 1069.7 L434.7 1064.6 L447.7 1058.1 L455.4 1054.2 L465.8 1053.7 L474.9 1056.8 L480.8 1059.4 L474.9 1068.4 L473.6 1077.5 L483.9 1073.6 L494.3 1067.2 L500.7 1067.2 L504.6 1058.1 L508.5 1055.5 L517 1056.3 L515 1062 L509.8 1067.2 L505.9 1076.2 L496.9 1081.4 L487.8 1085.3 L481.3 1090.4 L473.6 1095.6 L463.2 1100.8 L450.3 1108.6 L439.9 1112.4 L432.2 1111.1 L428.3 1118.9 L421.8 1122.8 L416.6 1128"/>
<path d="M251 1055.5 L257.5 1053.7 L259.3 1059.4 L252.3 1061.5Z"/>
<path d="M253.6 1128 L269.1 1104.7 L276.9 1103.4 L282.1 1095.6 L286.7 1097.7 L282.1 1111.1 L273.8 1128"/>
<path d="M474.9 1128 L478.7 1118.9 L489.1 1109.9 L495.6 1098.2 L503.3 1096.9 L507.2 1100.8 L515 1098.2 L520.1 1102.1 L525.3 1098.2 L537 1095.6"/>
<path d="M489.6 1118.4 L494.3 1112.4 L500.7 1110.6 L498.9 1116.3Z"/>
<path d="M537 944.2 L548.4 948.1 L558.8 953.3 L566.5 946.8 L571.7 948.1 L570.4 953.3 L565.2 955.9 L570.4 966.2 L576.9 964.9 L579.5 946.8 L595 950.7 L610.5 954.6 L620.9 959.7 L629.9 966.2 L639 975.3 L651.9 984.3 L659.7 990.8 L664.9 996 L675.2 995.2 L685.6 997.3 L697.2 1007.6 L692 1018 L685.6 1019.3 L680.4 1040 L667.5 1033.5 L659.7 1028.3 L655.8 1023.2 L648 1024.4 L640.3 1020.6 L636.4 1010.2 L631.2 1015.4 L635.1 1023.2 L631.2 1030.9 L620.9 1037.4 L613.1 1036.1 L614.4 1042.6 L620.9 1043.9 L624.8 1056.8 L628.6 1069.7 L623.5 1076.2 L615.7 1072.3 L605.3 1073.6 L595 1080.1 L584.6 1084 L571.7 1093 L558.8 1100.8 L553.6 1108.6 L545.8 1099.5 L535.5 1095.6 L525.1 1098.2 L517.4 1103.4 L518.6 1096.9 L505.7 1099.5"/>
<path d="M623.5 933.9 L631.2 927.4 L639 926.9 L642.9 932.6 L635.1 936.5 L624.8 937.8Z"/>
<path d="M838.3 878.7 L827.9 884.7 L817.6 886 L808.5 892.5 L799.4 895 L781.3 901.5 L773.6 905.4 L767.1 902.8 L759.3 906.7 L754.2 904.1 L747.7 904.6 L743.8 911.9 L734.7 918.3 L727 928.7 L723.1 937.8 L721.8 952 L716.6 955.9 L710.2 959.7 L712.7 968.8 L721.8 974 L729.6 979.2 L734.7 984.3 L745.1 989.5 L743.8 994.7 L736 997.3 L733.4 992.1 L727 993.4 L719.2 1002.5 L712.7 1011.5 L721.8 1015.4 L725.7 1024.4 L734.7 1025.2 L742.5 1021.9 L751.6 1019.3 L759.3 1012.8 L761.9 1019.3 L766.6 1025.7 L764.5 1032.2 L758 1036.1 L755.4 1042.6 L749 1043.9 L743.8 1049 L741.2 1059.4 L739.9 1072.3 L745.1 1078.8 L751.6 1087.9 L759.3 1093 L765.8 1098.2 L771 1095.6 L776.2 1089.1 L782.6 1095.6 L783.9 1100.8 L789.1 1107.3 L794.3 1102.1 L802 1099.5 L808.5 1103.4 L812.4 1098.2 L821.4 1095.6 L824 1103.4 L826.6 1113.7 L822.7 1128"/>
<path d="M690.7 1049 L698.5 1047.7 L706.3 1050.3 L712.7 1050.3 L706.3 1055.5 L698.5 1052.9 L692 1053.7Z"/>
<path d="M734.7 1098.2 L743.8 1093.5 L750.3 1095.6 L746.4 1100.8 L738.6 1100.3Z"/>
<path d="M505.7 1056.3 L516.8 1055.5 L517.4 1058.9 L510.9 1062 L505.7 1071"/>
<path d="M595.9 822 L608.4 829.9 L615 849.6 L629.7 858.4 L647.3 871.6 L658.3 880.4 L675.8 874.2 L691.2 860.6 L702.2 863.2 L723.7 860.6 L745.7 867.6 L761 865 L780.4 871.6 L789.6 860.6 L807.2 852.7 L825.2 852.3 L818.6 839.1 L807.6 832.9 L798.4 835.1 L792.2 830.3 L806.7 816.7"/>
<path d="M645.8 861 L648 850.5 L653 858.4Z"/>
<path d="M838.3 878.7 L846.3 878.2 L856.6 876.2 L860.5 874.3 L855.3 865.8 L854.8 861.4 L863.1 858.8 L864.4 847.2 L865.7 835.5 L872.2 836.8 L868.3 825.2 L874.8 822.6 L882.5 823.9 L890.3 820 L886.4 812.2 L894.2 817.4 L898 812.2 L895.5 803.2 L899.3 800.6 L907.1 795.9"/>
<path d="M935.6 851.1 L938.2 831.6 L940.7 814.8 L947.2 812.2 L948.5 822.6 L956.3 808.4 L964 817.4 L958.9 823.9 L966.6 826.5 L967.9 839.4 L961.5 831.6 L957.6 835.5 L962.7 843.3 L957.6 849.8 L952.4 844.6 L949.8 829.1 L943.3 836.8Z"/>
<path d="M834.6 1128 L839.8 1113.7 L846.3 1096.9 L850.2 1078.8 L845 1074.9 L847.6 1064.6 L854 1056.8 L852.8 1045.2 L848.9 1040 L854 1032.2 L857.9 1029.6 L856.6 1040 L854 1045.2 L857.9 1056.8 L860.5 1067.2 L868.3 1059.4 L870.9 1052.9 L872.2 1045.2 L878.6 1040 L876 1033.5 L870.9 1027 L881.2 1025.7 L886.4 1021.9 L909.7 1020.6 L922.6 1011.5 L935.6 1005 L938.2 998.6 L943.3 1005 L953.7 1003.7 L969.2 1003.7 L979.6 1003.7 L989.9 1007.6 L1000.3 1011.5 L1011.9 1015.4 L1000.3 1002.5 L989.9 994.7 L982.2 996 L984.7 990.8 L980.9 988.2 L988.6 990.8 L1000.3 999.9 L1005.4 992.1 L1014.5 994.7 L1006.7 998.6 L1009.3 1006.3 L1017.1 1010.2 L1019.7 1006.3 L1031.3 1012.8 L1049.4 1014.1 L1037.8 1005 L1023.6 1002.5 L1031.3 997.3 L1040.4 1003.7 L1050.7 1004.5 L1058.5 1003"/>
<path d="M852.8 1108.6 L856.6 1095.6 L863.1 1081.4 L867.8 1084 L865.7 1089.1 L870.9 1093 L867 1099.5 L863.1 1112.4Z"/>
<path d="M1058.5 1020 L1048.9 1027 L1058.5 1033.5"/>
<path d="M1035.6 775.5 L1029.7 784.8 L1030.5 796.7 L1035.6 806.9 L1028.8 813.7 L1022.9 821.3 L1032.2 821.3 L1035.6 829 L1039 835.8 L1034.8 842.5 L1042.4 838.3 L1045.8 829 L1049.2 820.5 L1044.1 813.7 L1044.1 804.4 L1037.3 795.9 L1038.1 783.1 L1033.1 781.4Z"/>
<path d="M1035.6 587.2 L1049.2 596.5 L1048.3 603.3 L1039.8 604.1 L1040.7 613.5 L1035.6 607.5 L1027.1 610.1 L1015.2 608.4 L1004.2 605 L1000 602.4 L999.1 593.1 L997.4 587.2"/>
<path d="M1000 602.4 L994 605 L995.7 614.3 L1001.7 609.2 L1010.1 614.3 L1018.6 614.3 L1028.8 619.4 L1037.3 624.5 L1038.1 633.8 L1044.1 638.1 L1052.6 638.9 L1056 642.3 L1058.5 648.2"/>
<path d="M937.2 591.4 L939.7 604.1 L944 610.9 L955 609.2 L968.6 608.7 L974.5 614.3 L983 617.2 L978.8 621.6 L969.4 624.5 L954.2 628.7 L962.6 634.7 L952.5 639.8 L942.3 647.4"/>
<path d="M927 672.8 L937.2 667.8 L945.7 666.1 L957.5 667.8 L963.5 675.4 L973.7 676.2 L978.8 671.1 L971.1 668.6 L960.9 669.5"/>
<path d="M940.6 679.6 L952.5 688.1 L960.1 682.2 L967.7 687.3 L974.5 689.8 L973.7 703.4 L969.4 710.2 L960.9 717 L952.5 723.8 L945.7 722.1 L937.2 723.8 L939.7 733.9 L940.6 747.5 L938.9 764.5 L935.5 767.9 L927 767"/>
<path d="M945.7 723.8 L947.4 737.3 L952.5 747.5 L961.8 745.8 L952.5 754.3 L951.6 771.3 L947.4 777.2 L942.3 784.8 L938 780.6 L938.9 774.7 L932.1 775.5 L927 777.2"/>
<path d="M590.2 867.5 L594.1 863.8 L599.1 862.4 L598.2 865.4 L592.5 868.5Z"/>
</g>
</g>
<rect x="207.3" y="198.6" width="849.9" height="927.2" fill="none" stroke="#000" stroke-width="2.2"/>
<g stroke="#000" stroke-width="2.2">
<path d="M182.7 227.1H207.3"/>
<path d="M182.7 402.3H207.3"/>
<path d="M182.7 531.2H207.3"/>
<path d="M182.7 643.0H207.3"/>
<path d="M182.7 756.8H207.3"/>
<path d="M182.7 889.0H207.3"/>
<path d="M182.7 1070.6H207.3"/>
<path d="M1057.2 199.5H1081.7"/>
<path d="M1057.2 384.5H1081.7"/>
<path d="M1057.2 518.6H1081.7"/>
<path d="M1057.2 635.1H1081.7"/>
<path d="M1057.2 750.1H1081.7"/>
<path d="M1057.2 882.8H1081.7"/>
<path d="M1057.2 1062.7H1081.7"/>
</g>
<g font-size="32.6">
<text x="160.4" y="239.0" text-anchor="end">45°E</text>
<text x="160.4" y="414.2" text-anchor="end">60°E</text>
<text x="160.4" y="543.1" text-anchor="end">75°E</text>
<text x="160.4" y="654.9" text-anchor="end">90°E</text>
<text x="160.4" y="768.7" text-anchor="end">105°E</text>
<text x="160.4" y="900.9" text-anchor="end">120°E</text>
<text x="160.4" y="1082.5" text-anchor="end">135°E</text>
<text x="1103.5" y="211.4">45°W</text>
<text x="1103.5" y="396.4">60°W</text>
<text x="1103.5" y="530.5">75°W</text>
<text x="1103.5" y="647.0">90°W</text>
<text x="1103.5" y="762.0">105°W</text>
<text x="1103.5" y="894.7">120°W</text>
<text x="1103.5" y="1074.6">135°W</text>
</g>
<text x="205" y="184" font-size="39">Sea Ice Concentration</text>
<text x="1058.5" y="184" font-size="39" text-anchor="end">%</text>
<g font-size="25" font-weight="bold"><text x="915.5" y="1156.9">July-26</text><text x="915.5" y="1185.1">Sea-ice</text></g>
<text x="632.8" y="1260.1" font-size="31.5" text-anchor="middle">Concentration (%)</text>
<rect x="242.40" y="1311.7" width="43.61" height="50.4" fill="#c8c8ff"/>
<rect x="285.71" y="1311.7" width="43.61" height="50.4" fill="#9696ff"/>
<rect x="329.02" y="1311.7" width="43.61" height="50.4" fill="#6060ff"/>
<rect x="372.33" y="1311.7" width="43.61" height="50.4" fill="#2828ff"/>
<rect x="415.64" y="1311.7" width="43.61" height="50.4" fill="#0000ff"/>
<rect x="458.96" y="1311.7" width="43.61" height="50.4" fill="#0028c0"/>
<rect x="502.27" y="1311.7" width="43.61" height="50.4" fill="#085098"/>
<rect x="545.58" y="1311.7" width="43.61" height="50.4" fill="#087860"/>
<rect x="588.89" y="1311.7" width="43.61" height="50.4" fill="#089830"/>
<rect x="632.20" y="1311.7" width="43.61" height="50.4" fill="#1eb414"/>
<rect x="675.51" y="1311.7" width="43.61" height="50.4" fill="#50c810"/>
<rect x="718.82" y="1311.7" width="43.61" height="50.4" fill="#88d808"/>
<rect x="762.13" y="1311.7" width="43.61" height="50.4" fill="#c0ec08"/>
<rect x="805.44" y="1311.7" width="43.61" height="50.4" fill="#f4fc00"/>
<rect x="848.76" y="1311.7" width="43.61" height="50.4" fill="#ffd800"/>
<rect x="892.07" y="1311.7" width="43.61" height="50.4" fill="#ffa000"/>
<rect x="935.38" y="1311.7" width="43.61" height="50.4" fill="#ff6400"/>
<rect x="978.69" y="1311.7" width="43.31" height="50.4" fill="#ff3200"/>
<g font-size="29.4" text-anchor="middle">
<text transform="translate(253.0 1414.3) rotate(-90)">0.1</text>
<text transform="translate(296.3 1414.3) rotate(-90)">0.15</text>
<text transform="translate(339.6 1414.3) rotate(-90)">0.2</text>
<text transform="translate(382.9 1414.3) rotate(-90)">0.25</text>
<text transform="translate(426.2 1414.3) rotate(-90)">0.3</text>
<text transform="translate(469.6 1414.3) rotate(-90)">0.35</text>
<text transform="translate(512.9 1414.3) rotate(-90)">0.4</text>
<text transform="translate(556.2 1414.3) rotate(-90)">0.45</text>
<text transform="translate(599.5 1414.3) rotate(-90)">0.5</text>
<text transform="translate(642.8 1414.3) rotate(-90)">0.55</text>
<text transform="translate(686.1 1414.3) rotate(-90)">0.6</text>
<text transform="translate(729.4 1414.3) rotate(-90)">0.65</text>
<text transform="translate(772.7 1414.3) rotate(-90)">0.7</text>
<text transform="translate(816.0 1414.3) rotate(-90)">0.75</text>
<text transform="translate(859.4 1414.3) rotate(-90)">0.8</text>
<text transform="translate(902.7 1414.3) rotate(-90)">0.85</text>
<text transform="translate(946.0 1414.3) rotate(-90)">0.9</text>
<text transform="translate(989.3 1414.3) rotate(-90)">0.95</text>
<text transform="translate(1032.6 1414.3) rotate(-90)">1</text>
</g>
</svg></body></html>
